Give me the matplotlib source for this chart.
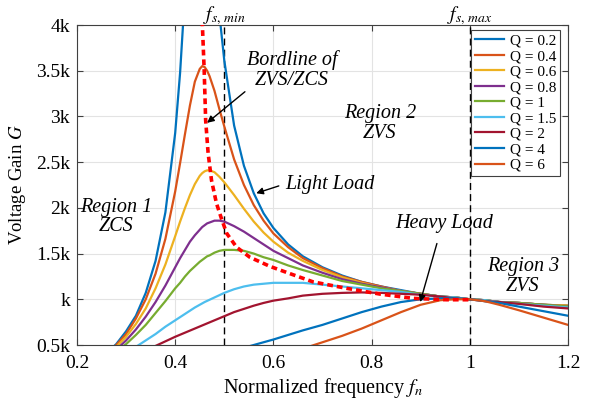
import matplotlib
matplotlib.use('Agg')
import matplotlib.pyplot as plt

plt.rcParams['font.family'] = ['Liberation Serif', 'DejaVu Serif']
plt.rcParams['mathtext.fontset'] = 'stix'

# normalized frequency samples
fn = [0.26, 0.28, 0.30, 0.32, 0.34, 0.36, 0.38, 0.40, 0.41, 0.42, 0.43, 0.44, 0.45, 0.455,
      0.46, 0.465, 0.47, 0.48, 0.49, 0.50, 0.52, 0.54, 0.56, 0.58, 0.60, 0.63, 0.66, 0.70,
      0.74, 0.78, 0.82, 0.86, 0.90, 0.94, 0.97, 1.00, 1.03, 1.06, 1.10, 1.15, 1.20]
# coarser samples for the flat, heavy-load curves
fn_c = [0.26, 0.28, 0.30, 0.32, 0.34, 0.36, 0.38, 0.40, 0.42, 0.44, 0.46, 0.48, 0.50, 0.52,
        0.54, 0.56, 0.58, 0.60, 0.63, 0.66, 0.70, 0.74, 0.78, 0.82, 0.86, 0.90, 0.94, 0.97,
        1.00, 1.03, 1.06, 1.10, 1.15, 1.20]

# voltage gain for each Q
g_q02 = [0.41, 0.51, 0.65, 0.82, 1.07, 1.42, 1.95, 2.82, 3.48, 4.36, 5.47, 6.56, 7.01, 6.86,
         6.52, 6.09, 5.63, 4.79, 4.12, 3.61, 2.90, 2.46, 2.16, 1.94, 1.78, 1.60, 1.47, 1.35,
         1.26, 1.19, 1.14, 1.10, 1.06, 1.03, 1.02, 1.00, 0.99, 0.97, 0.96, 0.94, 0.93]
g_q04 = [0.40, 0.50, 0.62, 0.79, 1.00, 1.28, 1.66, 2.18, 2.49, 2.81, 3.12, 3.38, 3.52, 3.55,
         3.54, 3.50, 3.44, 3.28, 3.08, 2.89, 2.53, 2.25, 2.03, 1.86, 1.72, 1.57, 1.45, 1.34,
         1.25, 1.19, 1.14, 1.09, 1.06, 1.03, 1.02, 1.00, 0.99, 0.97, 0.96, 0.94, 0.93]
g_q06 = [0.39, 0.48, 0.59, 0.73, 0.90, 1.12, 1.38, 1.69, 1.85, 2.00, 2.14, 2.26, 2.35, 2.38,
         2.40, 2.41, 2.41, 2.39, 2.34, 2.28, 2.14, 1.99, 1.85, 1.73, 1.63, 1.51, 1.42, 1.32,
         1.24, 1.18, 1.13, 1.09, 1.06, 1.03, 1.02, 1.00, 0.99, 0.97, 0.96, 0.94, 0.93]
g_q08 = [0.37, 0.45, 0.55, 0.67, 0.81, 0.97, 1.15, 1.35, 1.45, 1.54, 1.63, 1.70, 1.76, 1.79,
         1.81, 1.83, 1.84, 1.86, 1.86, 1.85, 1.80, 1.74, 1.67, 1.60, 1.53, 1.45, 1.37, 1.29,
         1.22, 1.17, 1.13, 1.09, 1.06, 1.03, 1.02, 1.00, 0.99, 0.97, 0.96, 0.94, 0.92]
g_q1 = [0.35, 0.43, 0.51, 0.61, 0.72, 0.85, 0.98, 1.12, 1.18, 1.25, 1.31, 1.36, 1.41, 1.43,
        1.45, 1.47, 1.48, 1.51, 1.53, 1.54, 1.54, 1.53, 1.50, 1.46, 1.43, 1.37, 1.32, 1.26,
        1.20, 1.16, 1.12, 1.09, 1.06, 1.03, 1.02, 1.00, 0.99, 0.97, 0.96, 0.94, 0.92]
g_q15 = [0.31, 0.36, 0.42, 0.48, 0.55, 0.62, 0.70, 0.77, 0.84, 0.91, 0.97, 1.02, 1.07, 1.11,
         1.14, 1.16, 1.17, 1.18, 1.18, 1.18, 1.16, 1.14, 1.12, 1.10, 1.08, 1.05, 1.03, 1.02,
         1.00, 0.99, 0.97, 0.95, 0.93, 0.91]
g_q2 = [0.27, 0.31, 0.35, 0.39, 0.44, 0.49, 0.54, 0.59, 0.635, 0.68, 0.725, 0.77, 0.815, 0.86,
        0.895, 0.93, 0.96, 0.985, 1.01, 1.04, 1.06, 1.07, 1.075, 1.07, 1.06, 1.05, 1.03, 1.01,
        1.00, 0.98, 0.97, 0.95, 0.92, 0.90]
g_q4 = [0.16, 0.18, 0.20, 0.22, 0.23, 0.25, 0.28, 0.30, 0.32, 0.34, 0.36, 0.39, 0.41, 0.44,
        0.47, 0.50, 0.53, 0.56, 0.61, 0.66, 0.72, 0.79, 0.86, 0.92, 0.97, 1.00, 1.01, 1.01,
        1.00, 0.98, 0.96, 0.92, 0.87, 0.82]
g_q6 = [0.11, 0.12, 0.13, 0.15, 0.16, 0.17, 0.18, 0.20, 0.21, 0.23, 0.24, 0.26, 0.28, 0.30,
        0.32, 0.34, 0.36, 0.38, 0.42, 0.46, 0.53, 0.60, 0.68, 0.77, 0.86, 0.94, 0.99, 1.00,
        1.00, 0.98, 0.94, 0.88, 0.80, 0.72]

q_labels = ['Q = 0.2', 'Q = 0.4', 'Q = 0.6', 'Q = 0.8', 'Q = 1', 'Q = 1.5', 'Q = 2', 'Q = 4', 'Q = 6']
gains = [g_q02, g_q04, g_q06, g_q08, g_q1, g_q15, g_q2, g_q4, g_q6]
xs = [fn, fn, fn, fn, fn, fn_c, fn_c, fn_c, fn_c]
colors = ['#0072BD', '#D95319', '#EDB120', '#7E2F8E', '#77AC30', '#4DBEEE', '#A2142F', '#0072BD', '#D95319']

# ZVS/ZCS borderline
border_fn = [0.455, 0.459, 0.462, 0.467, 0.474, 0.484, 0.495, 0.505, 0.525, 0.552, 0.593,
             0.634, 0.681, 0.749, 0.817, 0.885, 0.953, 1.0]
border_g = [4.05, 3.51, 2.96, 2.60, 2.30, 2.05, 1.87, 1.72, 1.57, 1.46, 1.36,
            1.28, 1.19, 1.12, 1.057, 1.01, 0.995, 0.995]

xticks = [0.2, 0.4, 0.6, 0.8, 1.0, 1.2]
xtick_labels = ['0.2', '0.4', '0.6', '0.8', '1', '1.2']
yticks = [0.5, 1.0, 1.5, 2.0, 2.5, 3.0, 3.5, 4.0]
ytick_labels = ['0.5k', 'k', '1.5k', '2k', '2.5k', '3k', '3.5k', '4k']

fig = plt.figure(figsize=(5.9, 4.0), dpi=100)
ax = fig.add_axes([77/590, 55/400, 491/590, 320/400])

ax.axvline(0.5, color='k', lw=1.0, ls=(0, (5, 3)), zorder=1)
ax.axvline(1.0, color='k', lw=1.0, ls=(0, (5, 3)), zorder=1)

for x, g, c, lab in zip(xs, gains, colors, q_labels):
    ax.plot(x, g, color=c, lw=1.6, label=lab, zorder=2)

ax.plot(border_fn, border_g, color='#FF0000', lw=2.6, ls=(0, (1.6, 1.1)), zorder=3)

ax.set_xlim(0.2, 1.2)
ax.set_ylim(0.5, 4.0)
ax.set_xticks(xticks)
ax.set_xticklabels(xtick_labels)
ax.set_yticks(yticks)
ax.set_yticklabels(ytick_labels)
ax.tick_params(direction='in', top=True, right=True, length=4, width=0.8,
               color='#404040', labelsize=14)
ax.tick_params(axis='x', pad=7)
ax.tick_params(axis='y', pad=5)
ax.grid(True, color='#e3e3e3', lw=0.8, zorder=0)
ax.set_axisbelow(True)
for s in ax.spines.values():
    s.set_color('#404040')
    s.set_linewidth(0.8)

ax.set_xlabel('Normalized frequency $f_n$', fontsize=14.5, labelpad=3)
ax.set_ylabel('Voltage Gain $G$', fontsize=13.5, labelpad=6)

leg = ax.legend(loc='upper right', bbox_to_anchor=(0.984, 0.984), borderaxespad=0,
                fontsize=11, labelspacing=0.12, handlelength=1.9, handletextpad=0.4,
                borderpad=0.25, fancybox=False, framealpha=1)
leg.get_frame().set_edgecolor('#404040')
leg.get_frame().set_linewidth(0.8)

# top labels
ax.text(0.5, 1.03, r'$f_{s,\,min}$', transform=ax.get_xaxis_transform(),
        ha='center', va='center', fontsize=14)
ax.text(1.0, 1.03, r'$f_{s,\,max}$', transform=ax.get_xaxis_transform(),
        ha='center', va='center', fontsize=14)

# region / load notes
txt = dict(style='italic', fontsize=14.5, ha='center', va='center', linespacing=1.05)
ax.text(0.279, 1.90, 'Region 1\nZCS', **txt)
ax.text(0.817, 2.92, 'Region 2\nZVS', **txt)
ax.text(1.108, 1.25, 'Region 3\nZVS', **txt)
ax.text(0.638, 3.51, 'Bordline of\nZVS/ZCS', **txt)
ax.text(0.624, 2.25, 'Light Load', style='italic', fontsize=14.5, ha='left', va='center')
ax.text(0.947, 1.83, 'Heavy Load', style='italic', fontsize=14.5, ha='center', va='center')

arr = dict(arrowstyle='-|>', color='k', lw=1.0, mutation_scale=10, shrinkA=0, shrinkB=0)
ax.annotate('', xy=(0.465, 2.93), xytext=(0.542, 3.27), arrowprops=arr)
ax.annotate('', xy=(0.565, 2.16), xytext=(0.611, 2.24), arrowprops=arr)
ax.annotate('', xy=(0.899, 0.97), xytext=(0.933, 1.61), arrowprops=arr)

fig.savefig('out.png', dpi=100)
